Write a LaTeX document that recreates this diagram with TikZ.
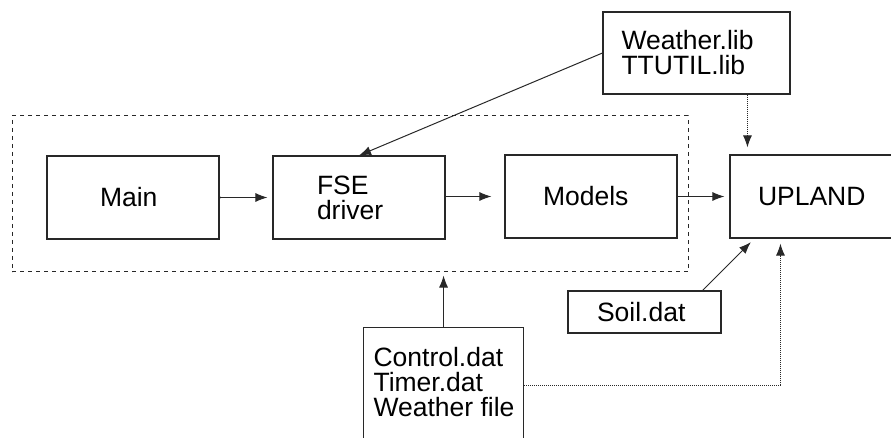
\documentclass[tikz,border=0pt]{standalone}
\usepackage{fontspec}
\setmainfont{Liberation Sans}
\usetikzlibrary{arrows.meta, calc}
\definecolor{InkGray}{RGB}{40, 40, 40}

\tikzset{
    filebox/.style={draw=InkGray, line width=1.1pt, inner sep=0pt, align=left,
        font=\fontsize{26.5}{25}\selectfont},
    modbox/.style={filebox, minimum width=172pt, minimum height=83pt},
    flow/.style={draw=InkGray, line width=1pt, -{Latex[length=12pt, width=9pt]}},
    dotflow/.style={flow, densely dotted}
}

\begin{document}
\begin{tikzpicture}[x=1pt, y=-1pt]
    \useasboundingbox (0,0) rectangle (891,438);

    % --- Program frame (dashed) ---
    \node[draw=InkGray, line width=1pt, dash pattern=on 4pt off 4pt,
          minimum width=676pt, minimum height=156pt] (frame) at (350,194) {};

    % --- Modules ---
    \node[modbox, text width=66pt]  (main)   at (133,197.5) {Main};
    \node[modbox, text width=84pt]  (fse)    at (359,197.5) {FSE\\driver};
    \node[modbox, text width=96pt]  (models) at (591,196.5) {Models};
    \node[modbox, text width=116pt] (upland) at (816,196.5) {UPLAND};

    % --- Input files ---
    \node[filebox, text width=150pt, minimum width=187pt, minimum height=82pt] (wlib) at (696.5,53) {Weather.lib\\TTUTIL.lib};
    \node[filebox, text width=95pt, minimum width=153pt, minimum height=42pt] (soil) at (644.5,312) {Soil.dat};
    \node[filebox, minimum width=160pt, minimum height=123pt, anchor=north west] (ctrl) at (363,327) {};
    \node[filebox, draw=none, anchor=north west] (ctrltext) at (373,347) {Control.dat\\Timer.dat\\Weather file};

    % --- Flow between modules ---
    \fill[InkGray] (main.east) circle (1.5pt);
    \draw[flow, shorten >=5pt] (main) -- (fse);
    \draw[flow, shorten >=13pt] (fse.east |- models.west) -- (models.west);
    \draw[flow, shorten >=5pt] (models.east) -- (upland.west);

    % --- Libraries and data ---
    \draw[flow] (wlib.west) -- (fse.north);
    \draw[dotflow, shorten >=7pt] ([xshift=18pt]upland.north west |- wlib.south) -- ([xshift=18pt]upland.north west);
    \draw[flow, shorten >=5pt] ([xshift=-19pt]soil.north east) -- ([xshift=25pt]upland.south west);
    \draw[flow, shorten >=3pt] (ctrl.north) -- (ctrl.north |- frame.south);
    \draw[dotflow, shorten >=5pt] ([yshift=4pt]ctrl.east) -| ([xshift=51pt]upland.south west);

\end{tikzpicture}
\end{document}
